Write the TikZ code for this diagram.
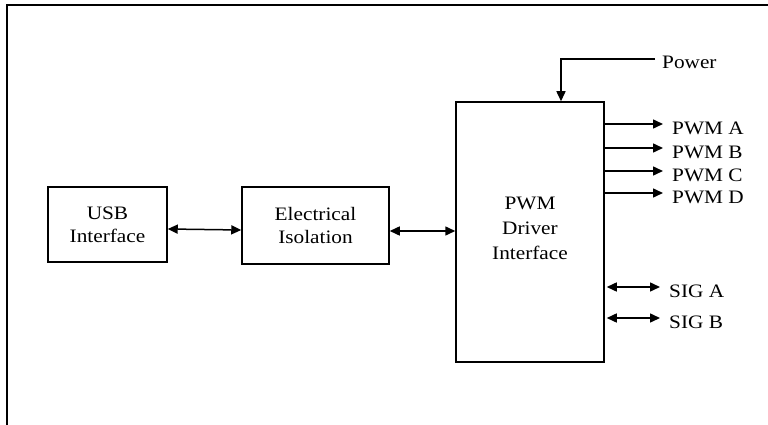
\documentclass[tikz,border=0pt]{standalone}
\usepackage{fontspec}
\setmainfont{Liberation Serif}[FakeStretch=1.12]
\usetikzlibrary{arrows.meta}
\begin{document}
\begin{tikzpicture}[x=1pt,y=-1pt,
  box/.style={draw,line width=1.5pt,align=center,inner sep=0pt,
    font=\fontsize{19}{23}\selectfont},
  lbl/.style={anchor=west,inner sep=0pt,font=\fontsize{19}{20}\selectfont},
  tip/.tip={Triangle[length=10pt,width=9pt]},
  arr/.style={line width=1.5pt,-tip},
  dbl/.style={line width=1.5pt,tip-tip}]
\useasboundingbox (0,0) rectangle (768,425);
% outer frame (top and left only)
\draw[line width=2pt] (7,425) -- (7,5) -- (768,5);
% blocks
\node[box,minimum width=119pt,minimum height=75pt] (usb) at (107.5,224.5) {USB\\Interface};
\node[box,minimum width=147pt,minimum height=77pt] (iso) at (315.5,225.5) {Electrical\\Isolation};
\node[box,minimum width=148pt,minimum height=260pt] (pwm) at (530,232) {};
\node[inner sep=0pt,align=center,font=\fontsize{19}{25}\selectfont] (pwmt) at (530,228) {PWM\\Driver\\Interface};
% links
\draw[dbl] ([yshift=-4.5pt]usb.east) -- ([yshift=-4.5pt]iso.west);
\draw[dbl] ([yshift=-5.5pt]iso.east) -- ([yshift=1pt]pwm.west);
% power
\node[lbl] (pow) at (662,62) {Power};
\coordinate (pwc) at (655,59);
\draw[arr] (pwc) -| ([xshift=31pt]pwm.north);
% PWM outputs
\node[lbl] (pa) at (672,128) {PWM A};
\node[lbl] (pb) at (672,152) {PWM B};
\node[lbl] (pc) at (672,175) {PWM C};
\node[lbl] (pd) at (672,197) {PWM D};
\coordinate (ea) at (663,124);
\coordinate (eb) at (663,148);
\coordinate (ec) at (663,171);
\coordinate (ed) at (663,193);
\draw[arr] (pwm.east |- ea) -- (ea);
\draw[arr] (pwm.east |- eb) -- (eb);
\draw[arr] (pwm.east |- ec) -- (ec);
\draw[arr] (pwm.east |- ed) -- (ed);
% SIG lines
\node[lbl] (sa) at (669,291) {SIG A};
\node[lbl] (sb) at (669,322) {SIG B};
\coordinate (sae) at (660,287);
\coordinate (sbe) at (660,318);
\draw[dbl] ([xshift=2pt]pwm.east |- sae) -- (sae);
\draw[dbl] ([xshift=2pt]pwm.east |- sbe) -- (sbe);
\end{tikzpicture}
\end{document}
